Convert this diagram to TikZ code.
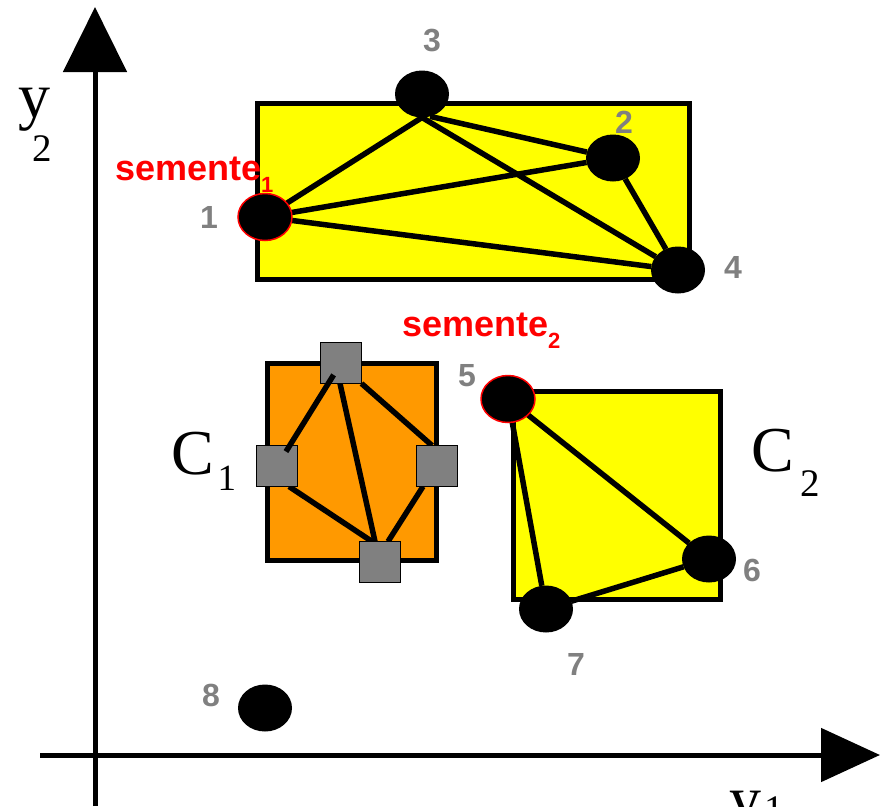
\documentclass[tikz,border=0pt]{standalone}
\usepackage{fontspec}
\setmainfont{Liberation Serif}
\setsansfont{Liberation Sans}
\usetikzlibrary{shapes.geometric, arrows.meta}
\definecolor{cyellow}{RGB}{255,255,0}
\definecolor{corange}{RGB}{255,153,0}
\definecolor{cgray}{RGB}{128,128,128}
\definecolor{cred}{RGB}{255,0,0}
\pgfdeclarelayer{bg}
\pgfdeclarelayer{links}
\pgfsetlayers{bg,links,main}
\newcommand{\bigfont}{\fontsize{64}{64}\selectfont}
\newcommand{\subfont}{\fontsize{39}{39}\selectfont}
\newcommand{\tagsub}[1]{\raisebox{-12pt}{\fontsize{22}{22}\selectfont #1}}

\begin{document}
\begin{tikzpicture}[x=1pt, y=-1pt,
        every node/.style={inner sep=0pt, outer sep=0pt},
        point/.style={ellipse, fill=black, minimum width=54pt, minimum height=47pt},
        seed/.style={point, draw=cred, line width=1.5pt},
        cell/.style={rectangle, draw=black, line width=0.8pt, fill=cgray, minimum size=41pt},
        edge/.style={line width=5.5pt, black},
        cluster/.style={draw=black, line width=5pt},
        num/.style={font=\sffamily\bfseries\fontsize{32}{32}\selectfont, text=cgray},
        tag/.style={font=\sffamily\bfseries\fontsize{36}{36}\selectfont, text=cred, anchor=base west},
        axlabel/.style={font=\bigfont, anchor=base west},
        axis/.style={line width=5pt}
    ]
        \useasboundingbox (0,0) rectangle (885,806);
        \clip (0,0) rectangle (885,806);

        % Eixos
        \coordinate (ybot) at (95,806);
        \coordinate (ytop) at (95,7);
        \coordinate (xleft) at (40,755);
        \coordinate (xright) at (880,755);
        \draw[axis, -{Triangle[length=65pt, width=63pt]}] (ybot) -- (ytop);
        \draw[axis, -{Triangle[length=59pt, width=53pt]}] (xleft) -- (xright);
        \node[axlabel] (ylab) at (18,117) {y\kern-18pt\raisebox{-44pt}{\subfont 2}};
        \node[axlabel] (xlab) at (729,820) {y\kern3pt\raisebox{-2pt}{\subfont 1}};

        % Grupos
        \begin{pgfonlayer}{bg}
            \draw[cluster, fill=cyellow] (257,103) rectangle (689,279);
            \draw[cluster, fill=corange] (267,363) rectangle (436,560);
            \draw[cluster, fill=cyellow] (513,391) rectangle (720,599);
        \end{pgfonlayer}

        % Pontos
        \node[seed]  (p1) at (265,217) {};
        \node[point] (p2) at (613,158) {};
        \node[point] (p3) at (422,94) {};
        \node[point] (p4) at (678,270) {};
        \node[seed]  (p5) at (508,399) {};
        \node[point] (p6) at (709,559) {};
        \node[point] (p7) at (546,609) {};
        \node[point] (p8) at (265,708) {};
        \node[cell] (ct) at (341,363) {};
        \node[cell] (cl) at (277,466) {};
        \node[cell] (cr) at (437,466) {};
        \node[cell] (cb) at (380,562) {};

        \node[num] (n1) at (209,217) {1};
        \node[num] (n2) at (624,122) {2};
        \node[num] (n3) at (432,41) {3};
        \node[num] (n4) at (733,267) {4};
        \node[num] (n5) at (467,376) {5};
        \node[num] (n6) at (752,570) {6};
        \node[num] (n7) at (576,664) {7};
        \node[num] (n8) at (211,695) {8};

        \node[tag] (s1) at (115,180) {semente\tagsub{1}};
        \node[tag] (s2) at (402,336) {semente\tagsub{2}};
        \node[axlabel] (c1) at (171,474) {C\kern4pt\raisebox{-16pt}{\fontsize{37}{37}\selectfont 1}};
        \node[axlabel] (c2) at (751,471) {C\kern7pt\raisebox{-25pt}{\subfont 2}};

        % Ligacoes
        \begin{pgfonlayer}{links}
            \draw[edge] (p1) -- (p3.south);
            \draw[edge] (p1) -- (p2);
            \draw[edge] (p1) -- (p4);
            \draw[edge] (p3.south) -- (p4);
            \draw[edge] (p3.-70) -- (p2);
            \draw[edge] (p2) -- (p4);
            \draw[edge] (p5) -- (p6);
            \draw[edge] (p5) -- (p7);
            \draw[edge] (p7) -- (p6);
            \draw[edge] ([xshift=-1pt]ct.south) -- ([xshift=-5pt]cb.north);
            \draw[edge] (ct.south east) -- ([xshift=-5pt]cr.north);
            \draw[edge] ([xshift=12pt]cl.south) -- ([xshift=-8pt]cb.north);
            \draw[edge] ([xshift=-14pt]cr.south) -- ([xshift=8pt]cb.north);
        \end{pgfonlayer}
        \draw[edge, shorten <=14pt, shorten >=17pt] (ct.center) -- (cl.center);
    \end{tikzpicture}
\end{document}
